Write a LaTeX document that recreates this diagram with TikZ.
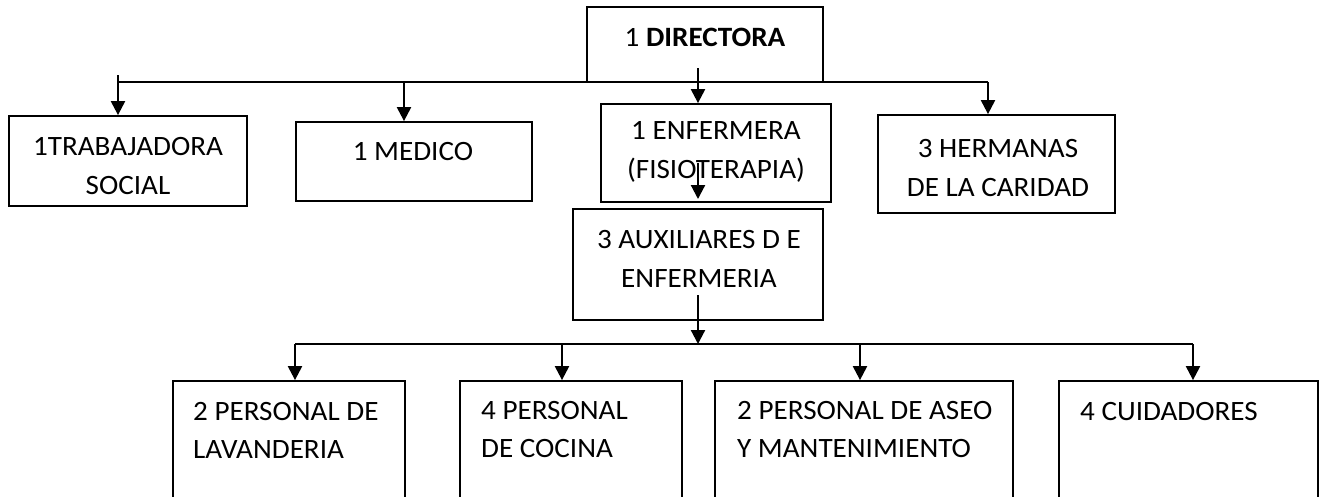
\documentclass[tikz,border=0pt]{standalone}
\usepackage{fontspec}
\setmainfont{Carlito}[FakeStretch=1.04]
\usetikzlibrary{arrows.meta}

\begin{document}
\begin{tikzpicture}[x=1pt, y=-1pt,
    main/.style = {draw, rectangle, line width=1.8pt, inner sep=0pt},
    lbl/.style = {font=\fontsize{28}{39}\selectfont, align=center, inner sep=0pt},
    lbll/.style = {font=\fontsize{28}{38}\selectfont, align=left, anchor=west, inner sep=0pt},
    bus/.style = {line width=1.4pt},
    arr/.style = {line width=2.2pt, -{Triangle[length=14pt, width=14pt]}}]
			\clip (0,0) rectangle (1325,496);
			% boxes
			\node[main, minimum width=236pt, minimum height=75pt] (1) at (705,44.5) {};
			\node[main, minimum width=238pt, minimum height=90pt] (2) at (128,161) {};
			\node[main, minimum width=236pt, minimum height=79pt] (3) at (414,161.5) {};
			\node[main, minimum width=230pt, minimum height=98pt] (4) at (716,153) {};
			\node[main, minimum width=237pt, minimum height=98pt] (5) at (996.5,164) {};
			\node[main, minimum width=250pt, minimum height=111pt] (6) at (698,264.5) {};
			\node[main, minimum width=232pt, minimum height=139pt] (7) at (289,450.5) {};
			\node[main, minimum width=222pt, minimum height=139pt] (8) at (571,450.5) {};
			\node[main, minimum width=298pt, minimum height=139pt] (9) at (864,450.5) {};
			\node[main, minimum width=259pt, minimum height=139pt] (10) at (1188.5,450.5) {};
			% texts
			\node[lbl] (t1) at (705,37) {1 \textbf{DIRECTORA}};
			\node[lbl] (t2) at (128,166) {1TRABAJADORA\\SOCIAL};
			\node[lbl] (t3) at (413,152) {1 MEDICO};
			\node[lbl] (t4) at (716,151.5) {1 ENFERMERA\\(FISIOTERAPIA)};
			\node[lbl] (t5) at (998,168) {3 HERMANAS\\DE LA CARIDAD};
			\node[lbl] (t6) at (699,259) {3 AUXILIARES D E\\ENFERMERIA};
			\node[lbll] (t7) at (193,430) {2 PERSONAL DE\\LAVANDERIA};
			\node[lbll] (t8) at (481,430) {4 PERSONAL\\DE COCINA};
			\node[lbll] (t9) at (737,430) {2 PERSONAL DE ASEO\\Y MANTENIMIENTO};
			\node[lbll] (t10) at (1080,411.5) {4 CUIDADORES};
			% upper level
			\coordinate (a0) at (118,75);
			\coordinate (a1) at (118,82);
			\coordinate (a2) at (404,82);
			\coordinate (a3) at (698,68);
			\coordinate (a4) at (988,82);
			\draw[bus] (a1) -- (a4);
			\draw[arr] (a0) -- (a0 |- 2.north);
			\draw[arr] (a2) -- (a2 |- 3.north);
			\draw[arr] (a3) -- (a3 |- 4.north);
			\draw[arr] (a4) -- (a4 |- 5.north);
			\coordinate (b0) at (698,163);
			\coordinate (b1) at (698,199);
			\draw[arr] (b0) -- (b1);
			% lower level
			\coordinate (c0) at (698,295);
			\coordinate (c1) at (698,344);
			\draw[arr] (c0) -- (c1);
			\coordinate (d1) at (295,344);
			\coordinate (d4) at (1193,344);
			\draw[bus] (d1) -- (d4);
			\foreach \x/\n in {295/7, 562/8, 860/9, 1193/10} {
				\coordinate (d\n) at (\x,344);
				\draw[arr] (d\n) -- (d\n |- \n.north);
			}
		\end{tikzpicture}
\end{document}
